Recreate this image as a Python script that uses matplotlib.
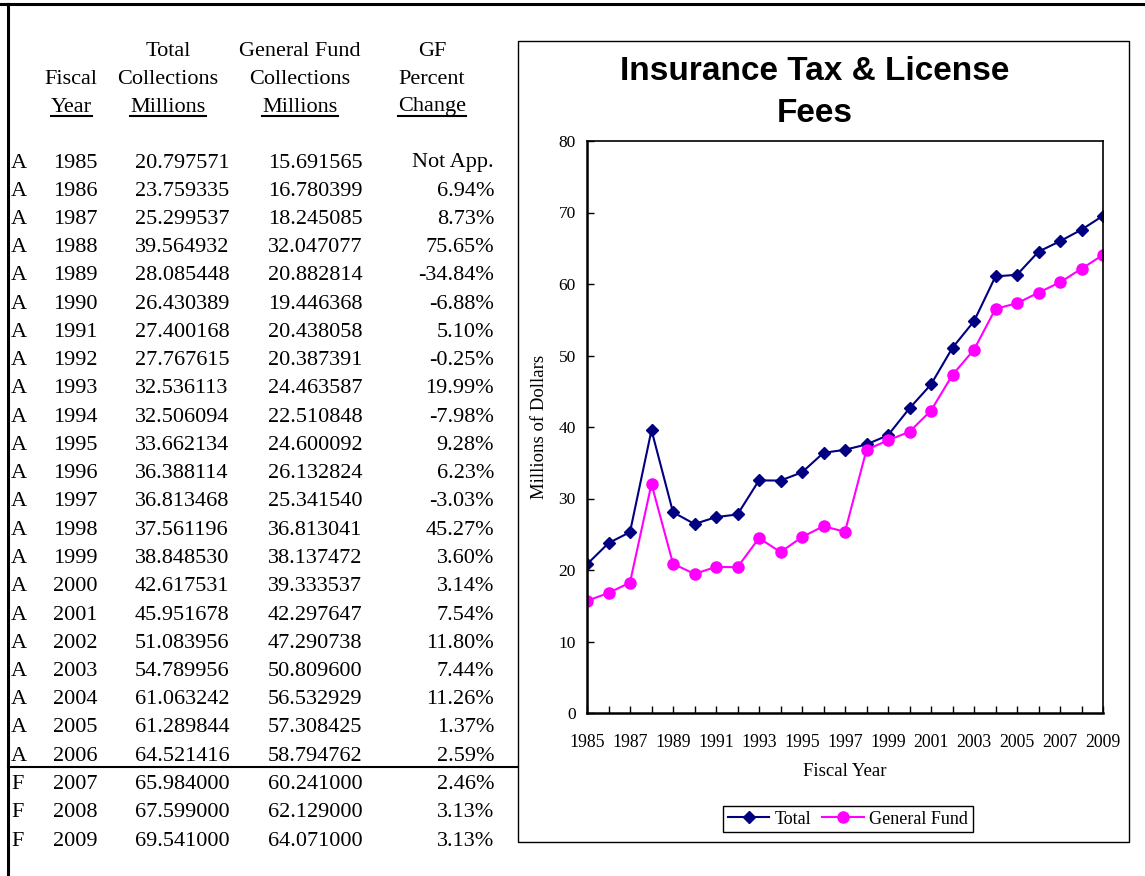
import matplotlib
matplotlib.use("Agg")
import matplotlib.pyplot as plt
from matplotlib.lines import Line2D
from matplotlib.patches import Rectangle

# data from the table
status = ["A"] * 22 + ["F"] * 3
years = list(range(1985, 2010))
total = [20.797571, 23.759335, 25.299537, 39.564932, 28.085448, 26.430389,
         27.400168, 27.767615, 32.536113, 32.506094, 33.662134, 36.388114,
         36.813468, 37.561196, 38.848530, 42.617531, 45.951678, 51.083956,
         54.789956, 61.063242, 61.289844, 64.521416, 65.984000, 67.599000,
         69.541000]
general_fund = [15.691565, 16.780399, 18.245085, 32.047077, 20.882814, 19.446368,
                20.438058, 20.387391, 24.463587, 22.510848, 24.600092, 26.132824,
                25.341540, 36.813041, 38.137472, 39.333537, 42.297647, 47.290738,
                50.809600, 56.532929, 57.308425, 58.794762, 60.241000, 62.129000,
                64.071000]
gf_change = ["Not App.", "6.94%", "8.73%", "75.65%", "-34.84%", "-6.88%", "5.10%",
             "-0.25%", "19.99%", "-7.98%", "9.28%", "6.23%", "-3.03%", "45.27%",
             "3.60%", "3.14%", "7.54%", "11.80%", "7.44%", "11.26%", "1.37%",
             "2.59%", "2.46%", "3.13%", "3.13%"]

W, H = 1145, 876
fig = plt.figure(figsize=(W / 100, H / 100), dpi=100)

def fx(x):
    return x / W

def fy(y):
    return 1 - y / H

serif = "Liberation Serif"
tsize = 16

# sheet borders
fig.add_artist(Line2D([0, 1], [fy(4), fy(4)], color="black", lw=2.2))
fig.add_artist(Line2D([fx(8), fx(8)], [fy(4), 0], color="black", lw=2.2))
fig.add_artist(Line2D([fx(8), fx(517)], [fy(767), fy(767)], color="black", lw=1.5))

# table header
headers = [
    (71, ["", "Fiscal", "Year"]),
    (168, ["Total", "Collections", "Millions"]),
    (300, ["General Fund", "Collections", "Millions"]),
    (432, ["GF", "Percent", "Change"]),
]
under = []
for cx, lines in headers:
    for i, s in enumerate(lines):
        if s:
            t = fig.text(fx(cx), fy(51 + 28 * i), s, ha="center", va="center",
                         family=serif, fontsize=tsize)
            if i == 2:
                under.append(t)

# table rows
for i in range(len(years)):
    y = fy(163 + 28.25 * i)
    fig.text(fx(11), y, status[i], ha="left", va="center", family=serif, fontsize=tsize)
    fig.text(fx(75), y, str(years[i]), ha="center", va="center", family=serif, fontsize=tsize)
    fig.text(fx(182), y, "%.6f" % total[i], ha="center", va="center", family=serif, fontsize=tsize)
    fig.text(fx(315), y, "%.6f" % general_fund[i], ha="center", va="center", family=serif, fontsize=tsize)
    fig.text(fx(494), y, gf_change[i], ha="right", va="center", family=serif, fontsize=tsize)

# chart box
fig.add_artist(Rectangle((fx(518), fy(842)), fx(1129) - fx(518), fy(41) - fy(842),
                         fill=False, ec="black", lw=1.0, transform=fig.transFigure))
fig.text(fx(815), fy(72), "Insurance Tax & License", ha="center", va="center",
         family="Liberation Sans", fontweight="bold", fontsize=24)
fig.text(fx(815), fy(113), "Fees", ha="center", va="center",
         family="Liberation Sans", fontweight="bold", fontsize=24)

ax = fig.add_axes([fx(587), fy(713), fx(1103) - fx(587), fy(141) - fy(713)])
ax.plot(years, total, color="#000080", marker="D", markersize=6.5, lw=1.5, label="Total")
ax.plot(years, general_fund, color="#FF00FF", marker="o", markersize=8, lw=1.5,
        label="General Fund")
ax.set_xlim(1985, 2009)
ax.set_ylim(0, 80)
ax.set_xticks(years)
ax.set_xticklabels([str(y) if (y - 1985) % 2 == 0 else "" for y in years],
                   family=serif, fontsize=12.8)
ax.set_yticks(range(0, 81, 10))
ax.set_yticklabels([str(v) for v in range(0, 81, 10)], family=serif, fontsize=12.5)
ax.tick_params(direction="in", length=5, width=1)
ax.tick_params(axis="x", pad=15)
ax.tick_params(axis="y", pad=8)
for side in ["top", "right"]:
    ax.spines[side].set_linewidth(1.2)
for side in ["left", "bottom"]:
    ax.spines[side].set_linewidth(1.8)
fig.text(fx(539), fy(427), "Millions of Dollars", rotation=90, ha="center", va="center",
         family=serif, fontsize=13.5)
fig.text(fx(845), fy(772), "Fiscal Year", ha="center", va="center",
         family=serif, fontsize=13.5)

leg = fig.legend(loc="center", bbox_to_anchor=(fx(848), fy(819)), ncol=2,
                 prop={"family": serif, "size": 13}, fancybox=False, framealpha=1,
                 edgecolor="black", handlelength=2.3, handletextpad=0.3,
                 columnspacing=0.6, borderpad=0.25)
leg.get_frame().set_linewidth(1.0)

# underlines for the header last row
fig.canvas.draw()
r = fig.canvas.get_renderer()
for t in under:
    bb = t.get_window_extent(r)
    yy = bb.y0 / H + 0.5 / H
    fig.add_artist(Line2D([bb.x0 / W, bb.x1 / W], [yy, yy], color="black", lw=1.5))

fig.savefig("out.png", dpi=100)
